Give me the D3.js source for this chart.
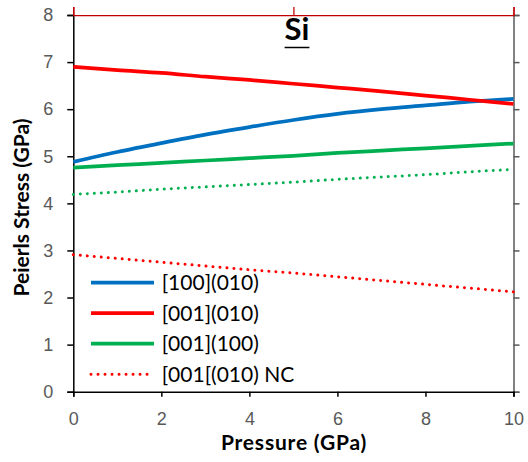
<!DOCTYPE html>
<html>
<head>
<meta charset="utf-8">
<script src="https://cdn.jsdelivr.net/npm/d3@7/dist/d3.min.js"></script>
<style>
  html, body { margin: 0; padding: 0; background: #fff; }
  svg { display: block; font-family: Lato, "Liberation Sans", sans-serif; }
</style>
</head>
<body>
<svg id="chart" width="528" height="462"></svg>
<script>
// Pressure (GPa) sample points
const pressure = [0, 1, 2, 3, 4, 5, 6, 7, 8, 9, 10];

// Peierls stress (GPa) for each slip system
const s100_010 = [4.88, 5.09, 5.28, 5.46, 5.62, 5.77, 5.90, 6.00, 6.08, 6.16, 6.22];
const s001_010 = [6.90, 6.83, 6.77, 6.69, 6.62, 6.54, 6.46, 6.38, 6.29, 6.20, 6.11];
const s001_100 = [4.76, 4.81, 4.86, 4.91, 4.96, 5.01, 5.07, 5.12, 5.17, 5.22, 5.27];
const s001_100_nc = [4.19, 4.24, 4.30, 4.35, 4.40, 4.45, 4.51, 4.56, 4.61, 4.67, 4.72];
const s001_010_nc = [2.91, 2.83, 2.75, 2.67, 2.59, 2.52, 2.44, 2.36, 2.28, 2.20, 2.12];

const seriesNames = ["[100](010)", "[001](010)", "[001](100)", "[001[(010) NC"];
const xTicks = [0, 2, 4, 6, 8, 10];
const yTicks = [0, 1, 2, 3, 4, 5, 6, 7, 8];
const titleText = "Si";
const xTitle = "Pressure (GPa)";
const yTitle = "Peierls Stress (GPa)";

const series = [
  { name: seriesNames[0], values: s100_010, color: "#0070C0", dotted: false, legend: true },
  { name: seriesNames[1], values: s001_010, color: "#FF0000", dotted: false, legend: true },
  { name: seriesNames[2], values: s001_100, color: "#00B050", dotted: false, legend: true },
  { name: "[001](100) NC", values: s001_100_nc, color: "#00B050", dotted: true, legend: false },
  { name: seriesNames[3], values: s001_010_nc, color: "#FF0000", dotted: true, legend: true }
];

const svg = d3.select("#chart");
const plotLeft = 73.3, plotRight = 513.5, plotTop = 15, plotBottom = 391.7;

const x = d3.scaleLinear().domain([0, 10]).range([plotLeft, plotRight]);
const y = d3.scaleLinear().domain([0, 8]).range([plotBottom, plotTop]);

const tickColor = "#595959";

// left axis
const gy = svg.append("g").attr("transform", `translate(${plotLeft},0)`)
  .call(d3.axisLeft(y).tickValues(yTicks).tickSize(6).tickPadding(14).tickFormat(d3.format("d")));
gy.select(".domain").attr("stroke", "#000").attr("stroke-width", 1.5);
gy.selectAll(".tick line").attr("stroke", "#000").attr("stroke-width", 1.5);
gy.selectAll(".tick text").attr("fill", tickColor).style("font-size", "18px");

// right axis
const gr = svg.append("g").attr("transform", `translate(${plotRight},0)`)
  .call(d3.axisRight(y).tickValues(yTicks).tickSize(6).tickFormat(""));
gr.select(".domain").attr("stroke", tickColor).attr("stroke-width", 1.5);
gr.selectAll(".tick line").attr("stroke", tickColor).attr("stroke-width", 1.5);

// top axis
const gt = svg.append("g").attr("transform", `translate(0,${plotTop})`)
  .call(d3.axisTop(x).tickValues([0, 5, 10]).tickSize(8).tickFormat(""));
gt.select(".domain").attr("stroke", "#C00000").attr("stroke-width", 1.25);
gt.selectAll(".tick line").attr("stroke", "#C00000").attr("stroke-width", 1.25);

// bottom axis
const gx = svg.append("g").attr("transform", `translate(0,${plotBottom})`)
  .call(d3.axisBottom(x).tickValues(xTicks).tickSize(5).tickPadding(16).tickFormat(d3.format("d")));
gx.select(".domain").attr("stroke", "#000").attr("stroke-width", 1.5);
gx.selectAll(".tick line").attr("stroke", "#000").attr("stroke-width", 1.5);
gx.selectAll(".tick text").attr("fill", tickColor).style("font-size", "18px");

// curves
const line = d3.line()
  .x((d, i) => x(pressure[i]))
  .y(d => y(d))
  .curve(d3.curveMonotoneX);

svg.append("g").selectAll("path")
  .data(series)
  .join("path")
  .attr("d", d => line(d.values))
  .attr("fill", "none")
  .attr("stroke", d => d.color)
  .attr("stroke-width", d => d.dotted ? 3 : 3.75)
  .attr("stroke-linecap", d => d.dotted ? "round" : "butt")
  .attr("stroke-dasharray", d => d.dotted ? "0.01 7" : null);

// legend
const legendItems = series.filter(d => d.legend);
const lg = svg.append("g");
const rows = lg.selectAll("g").data(legendItems).join("g")
  .attr("transform", (d, i) => `translate(91,${282.7 + i * 30.5})`);
rows.append("line")
  .attr("x1", 0).attr("x2", 63).attr("y1", 0).attr("y2", 0)
  .attr("stroke", d => d.color)
  .attr("stroke-width", d => d.dotted ? 3 : 3.75)
  .attr("stroke-linecap", d => d.dotted ? "round" : "butt")
  .attr("stroke-dasharray", d => d.dotted ? "0.01 7" : null);
rows.append("text")
  .attr("x", 70.7).attr("y", 0).attr("dy", "0.35em")
  .attr("fill", "#000")
  .style("font-size", "21px")
  .text(d => d.name);

// title
const title = svg.append("text")
  .attr("x", 297).attr("y", 39.5)
  .attr("text-anchor", "middle")
  .style("font-size", "31px").style("font-weight", "bold")
  .attr("fill", "#000")
  .text(titleText);
const tb = title.node().getBBox();
svg.append("line")
  .attr("x1", tb.x).attr("x2", tb.x + tb.width)
  .attr("y1", 47.5).attr("y2", 47.5)
  .attr("stroke", "#000").attr("stroke-width", 1.5);

// axis titles
svg.append("text")
  .attr("x", 294).attr("y", 450)
  .attr("text-anchor", "middle")
  .style("font-size", "21px").style("font-weight", "bold")
  .style("letter-spacing", "0.8px")
  .text(xTitle);
svg.append("text")
  .attr("transform", "translate(28.5,207.5) rotate(-90)")
  .attr("text-anchor", "middle")
  .style("font-size", "21px").style("font-weight", "bold")
  .text(yTitle);
</script>
</body>
</html>
